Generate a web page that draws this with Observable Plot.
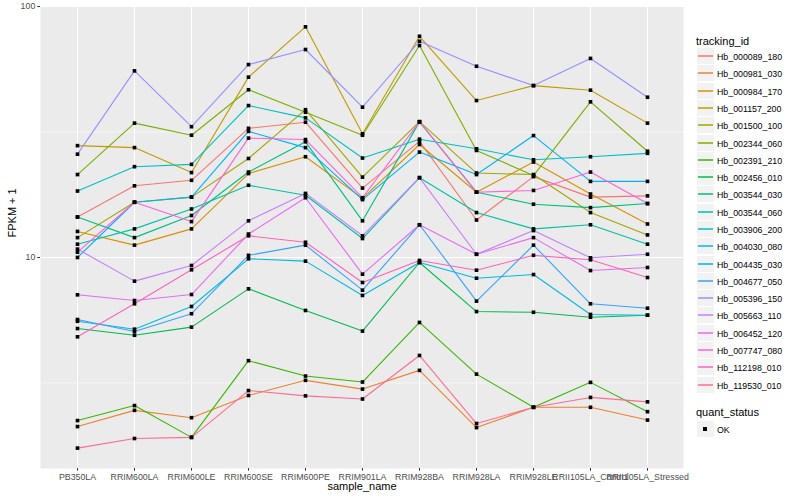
<!DOCTYPE html>
<html><head><meta charset="utf-8">
<script src="https://cdn.jsdelivr.net/npm/d3@7"></script>
<script src="https://cdn.jsdelivr.net/npm/@observablehq/plot@0.6"></script>
<style>
body{margin:0;background:#fff;font-family:"Liberation Sans",Arial,Helvetica,sans-serif;}
#wrap{position:relative;width:800px;height:500px;overflow:hidden;}
.lt{position:absolute;font-size:11px;color:#000;white-space:nowrap;line-height:12px;}
.row{position:absolute;left:697px;height:17px;display:flex;align-items:center;}
.key{width:17px;height:17px;background:#F2F2F2;position:relative;box-sizing:border-box;border-bottom:1px solid #fff;}
.key i{position:absolute;left:1px;right:1px;top:7px;height:2px;opacity:0.75;}
.key b{position:absolute;left:6px;top:6px;width:4px;height:4px;background:#000;}
.lab{margin-left:3px;font-size:8.8px;color:#000;white-space:nowrap;}
</style></head><body><div id="wrap"></div>
<script>
const samples = ["PB350LA","RRIM600LA","RRIM600LE","RRIM600SE","RRIM600PE","RRIM901LA","RRIM928BA","RRIM928LA","RRIM928LE","RRII105LA_Control","RRII105LA_Stressed"];
const ids = ["Hb_000089_180","Hb_000981_030","Hb_000984_170","Hb_001157_200","Hb_001500_100","Hb_002344_060","Hb_002391_210","Hb_002456_010","Hb_003544_030","Hb_003544_060","Hb_003906_200","Hb_004030_080","Hb_004435_030","Hb_004677_050","Hb_005396_150","Hb_005663_110","Hb_006452_120","Hb_007747_080","Hb_112198_010","Hb_119530_010"];
const colors = ["#F8766D","#EA8331","#D89000","#C09B00","#A3A500","#7CAE00","#39B600","#00BB4E","#00BF7D","#00C1A3","#00BFC4","#00BAE0","#00B0F6","#35A2FF","#9590FF","#C77CFF","#E76BF3","#FA62DB","#FF62BC","#FF6C91"];
const statuses = ["OK"];
const majorBreaks = [10, 100];
const minorBreaks = [3.1623, 31.623];

const Hb_000089_180 = [14.5, 19.3, 20.3, 32.7, 34.6, 18.9, 29.0, 14.1, 21.0, 17.4, 17.6];
const Hb_000981_030 = [2.12, 2.46, 2.30, 2.82, 3.24, 2.99, 3.55, 2.10, 2.53, 2.53, 2.25];
const Hb_000984_170 = [12.7, 11.2, 13.0, 21.6, 25.2, 17.2, 28.2, 18.2, 24.0, 17.9, 13.6];
const Hb_001157_200 = [27.9, 27.4, 21.8, 52.3, 83.0, 31.1, 76.1, 42.2, 48.4, 46.4, 34.3];
const Hb_001500_100 = [12.0, 16.6, 17.4, 24.8, 38.8, 20.9, 34.8, 21.7, 21.4, 15.1, 12.3];
const Hb_002344_060 = [21.4, 34.3, 30.7, 46.6, 37.9, 30.7, 69.9, 26.7, 21.2, 41.7, 26.5];
const Hb_002391_210 = [2.24, 2.57, 1.92, 3.88, 3.37, 3.19, 5.51, 3.43, 2.53, 3.18, 2.43];
const Hb_002456_010 = [5.21, 4.90, 5.28, 7.50, 6.15, 5.09, 9.55, 6.09, 6.05, 5.78, 5.89];
const Hb_003544_030 = [14.5, 12.0, 14.7, 21.9, 28.9, 14.0, 34.7, 18.2, 16.3, 15.8, 16.4];
const Hb_003544_060 = [11.3, 13.0, 15.6, 19.4, 17.7, 11.9, 20.8, 15.1, 13.0, 13.5, 11.3];
const Hb_003906_200 = [18.4, 23.0, 23.5, 40.3, 36.0, 24.9, 29.6, 27.1, 24.5, 25.2, 26.0];
const Hb_004030_080 = [5.57, 5.18, 6.38, 9.88, 9.67, 7.06, 9.55, 8.27, 8.55, 5.93, 5.89];
const Hb_004435_030 = [10.0, 16.6, 17.4, 31.8, 27.4, 17.0, 26.3, 21.4, 30.6, 20.1, 20.1];
const Hb_004677_050 = [5.66, 5.07, 5.97, 10.2, 11.2, 7.41, 13.5, 6.70, 11.2, 6.54, 6.28];
const Hb_005396_150 = [25.8, 55.4, 33.2, 58.7, 67.4, 39.7, 72.7, 57.8, 48.4, 62.1, 43.5];
const Hb_005663_110 = [10.8, 8.05, 9.29, 14.0, 18.0, 12.2, 20.8, 10.3, 12.8, 9.97, 10.3];
const Hb_006452_120 = [7.10, 6.74, 7.12, 12.4, 17.3, 8.58, 13.5, 10.3, 12.0, 8.87, 9.12];
const Hb_007747_080 = [10.5, 16.6, 13.9, 29.9, 29.5, 17.3, 34.7, 18.2, 18.5, 21.9, 16.4];
const Hb_112198_010 = [4.83, 6.54, 8.93, 12.2, 11.5, 7.95, 9.73, 8.90, 10.2, 9.79, 8.32];
const Hb_119530_010 = [1.74, 1.90, 1.92, 2.95, 2.81, 2.73, 4.07, 2.18, 2.53, 2.77, 2.66];

const seriesValues = [Hb_000089_180, Hb_000981_030, Hb_000984_170, Hb_001157_200, Hb_001500_100, Hb_002344_060, Hb_002391_210, Hb_002456_010, Hb_003544_030, Hb_003544_060, Hb_003906_200, Hb_004030_080, Hb_004435_030, Hb_004677_050, Hb_005396_150, Hb_005663_110, Hb_006452_120, Hb_007747_080, Hb_112198_010, Hb_119530_010];

const rows = [];
ids.forEach((id, i) => seriesValues[i].forEach((v, j) => rows.push({id, sample: samples[j], value: v, status: statuses[0]})));

const font = "Liberation Sans, Arial, Helvetica, sans-serif";
const chart = Plot.plot({
  width: 800, height: 500,
  marginLeft: 40, marginRight: 117, marginTop: 6, marginBottom: 32,
  style: {fontFamily: font, background: "transparent", overflow: "visible"},
  x: {type: "point", domain: samples, padding: 0.6, axis: null},
  y: {type: "log", domain: [1.443, 100], axis: null},
  color: {domain: ids, range: colors},
  marks: [
    Plot.frame({fill: "#EBEBEB", stroke: null}),
    Plot.ruleY(minorBreaks, {stroke: "#FFFFFF", strokeWidth: 0.55}),
    Plot.ruleY(majorBreaks, {stroke: "#FFFFFF", strokeWidth: 1.1}),
    Plot.ruleX(samples, {stroke: "#FFFFFF", strokeWidth: 1.1}),
    Plot.line(rows, {x: "sample", y: "value", z: "id", stroke: "id", strokeWidth: 1.1}),
    Plot.dot(rows, {x: "sample", y: "value", symbol: "square", r: 2.05, fill: "#000", stroke: null}),
    Plot.axisX(samples, {tickSize: 2.7, tickPadding: 2.5, fontSize: 8.8, stroke: "#333333", fill: "#4D4D4D", label: null}),
    Plot.axisY(majorBreaks, {tickSize: 2.7, tickPadding: 2.5, fontSize: 8.8, stroke: "#333333", fill: "#4D4D4D", label: null, tickFormat: d => String(d)}),
    Plot.text(["sample_name"], {frameAnchor: "bottom", dy: 21.5, fontSize: 11, fill: "#000"}),
    Plot.text(["FPKM + 1"], {frameAnchor: "left", dx: -28, rotate: -90, fontSize: 11, fill: "#000"})
  ]
});
const wrap = document.getElementById("wrap");
wrap.appendChild(chart);

// legend
const t1 = document.createElement("div");
t1.className = "lt"; t1.style.left = "696px"; t1.style.top = "34.5px"; t1.textContent = "tracking_id";
wrap.appendChild(t1);
ids.forEach((id, i) => {
  const r = document.createElement("div");
  r.className = "row"; r.style.top = Math.round(48.2 + i * 17.28) + "px";
  const k = document.createElement("div"); k.className = "key";
  const ln = document.createElement("i"); ln.style.background = colors[i]; k.appendChild(ln);
  const lb = document.createElement("span"); lb.className = "lab"; lb.textContent = id;
  r.appendChild(k); r.appendChild(lb); wrap.appendChild(r);
});
const t2 = document.createElement("div");
t2.className = "lt"; t2.style.left = "696px"; t2.style.top = "406px"; t2.textContent = "quant_status";
wrap.appendChild(t2);
statuses.forEach((s, i) => {
  const r = document.createElement("div");
  r.className = "row"; r.style.top = Math.round(420.5 + i * 17.28) + "px";
  const k = document.createElement("div"); k.className = "key";
  const pt = document.createElement("b"); k.appendChild(pt);
  const lb = document.createElement("span"); lb.className = "lab"; lb.textContent = s;
  r.appendChild(k); r.appendChild(lb); wrap.appendChild(r);
});
</script></body></html>
